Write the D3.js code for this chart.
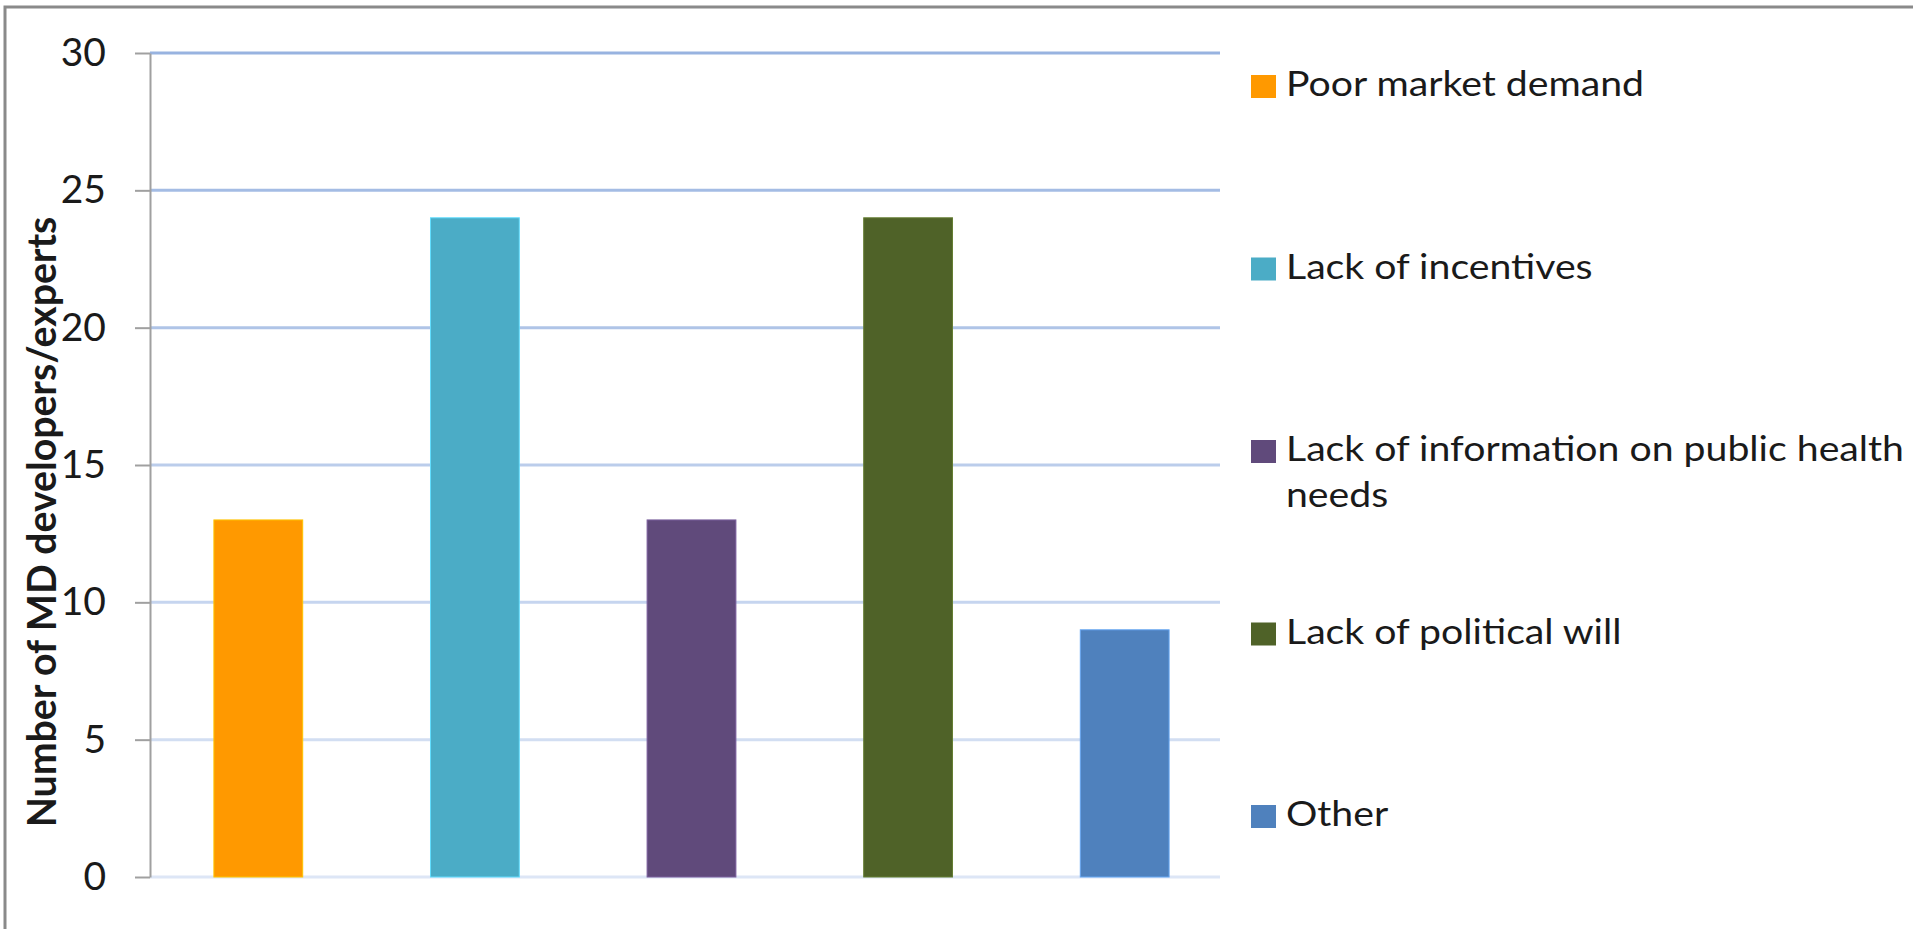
<!DOCTYPE html>
<html lang="en">
<head>
<meta charset="utf-8">
<title>Barriers</title>
<script src="https://d3js.org/d3.v7.min.js"></script>
<style>
body {
    margin: 0;
    background-color: white;
    overflow: hidden;
}
text {
    font-family: Lato, "Open Sans", sans-serif;
    fill: #1a1a1a;
}
.tick line {
    stroke: #a0a0a0;
    stroke-width: 2;
}
.domain {
    stroke: #a0a0a0;
    stroke-width: 2;
}
</style>
</head>
<body>
<div id="chart"></div>
<script>
var categories = ["Poor market demand", "Lack of incentives", "Lack of information on public health needs", "Lack of political will", "Other"];
var counts = [13, 24, 13, 24, 9];
var colors = ["#ff9900", "#4bacc6", "#604a7b", "#4f6228", "#4f81bd"];
var yTicks = [0, 5, 10, 15, 20, 25, 30];
var yTitle = "Number of MD developers/experts";

var width = 1913, height = 929;
var stretch = 1.12; // legend text is set a little looser than Lato

var svg = d3.select("#chart").append("svg").attr("width", width).attr("height", height);

// frame: only the top and left edges show
svg.append("rect")
    .attr("x", 5).attr("y", 7).attr("width", width + 20).attr("height", height + 20)
    .attr("fill", "none").attr("stroke", "#8a8a8a").attr("stroke-width", 3);

var x = d3.scaleBand().domain(categories).range([150, 1233]).paddingInner(0.59).paddingOuter(0.295);
var y = d3.scaleLinear().domain([0, 30]).range([877, 53]);

// gridlines, paler towards the bottom
var gridColor = d3.interpolateRgb("#98b3e0", "#dde6f6");
svg.append("g").selectAll("line").data(yTicks).enter().append("line")
    .attr("x1", 150).attr("x2", 1220)
    .attr("y1", function(d){ return y(d); }).attr("y2", function(d){ return y(d); })
    .attr("stroke", function(d){ return gridColor(1 - d / 30); })
    .attr("stroke-width", 3);

var yAxis = svg.append("g").attr("transform", "translate(150,0)")
    .call(d3.axisLeft(y).tickValues(yTicks).tickSize(15).tickSizeOuter(0).tickPadding(29));
yAxis.selectAll(".tick text")
    .style("font-size", "39px").style("font-family", "Lato, sans-serif").attr("fill", "#1a1a1a");

svg.append("text")
    .attr("transform", "translate(56,522) rotate(-90)")
    .attr("text-anchor", "middle")
    .style("font-size", "40px").style("font-weight", "bold")
    .text(yTitle)
    .each(function(){ d3.select(this).attr("textLength", this.getComputedTextLength() * 0.98).attr("lengthAdjust", "spacingAndGlyphs"); });

svg.append("g").selectAll("rect").data(counts).enter().append("rect")
    .attr("x", function(d, i){ return x(categories[i]); })
    .attr("width", x.bandwidth())
    .attr("y", function(d){ return y(d); })
    .attr("height", function(d){ return y(0) - y(d); })
    .attr("fill", function(d, i){ return colors[i]; })
    .attr("stroke", function(d, i){ return d3.color(colors[i]).brighter(0.7); })
    .attr("stroke-width", 1);

// legend
var legend = svg.append("g").selectAll("g").data(categories).enter().append("g")
    .attr("transform", function(d, i){ return "translate(1251," + (96 + i * 182.5) + ")"; });

legend.append("rect")
    .attr("x", 0).attr("y", -21).attr("width", 25).attr("height", 23)
    .attr("fill", function(d, i){ return colors[i]; });

legend.each(function(d){
    var g = d3.select(this);
    var words = d.split(" "), lines = [], cur = [];
    var probe = g.append("text").style("font-size", "35px");
    words.forEach(function(w){
        probe.text(cur.concat([w]).join(" "));
        if (cur.length && probe.node().getComputedTextLength() * stretch > 640) {
            lines.push(cur.join(" "));
            cur = [w];
        } else cur.push(w);
    });
    lines.push(cur.join(" "));
    probe.remove();
    lines.forEach(function(l, k){
        g.append("text")
            .attr("x", 35).attr("y", k * 46)
            .style("font-size", "35px")
            .text(l)
            .each(function(){ d3.select(this).attr("textLength", this.getComputedTextLength() * stretch).attr("lengthAdjust", "spacingAndGlyphs"); });
    });
});
</script>
</body>
</html>
